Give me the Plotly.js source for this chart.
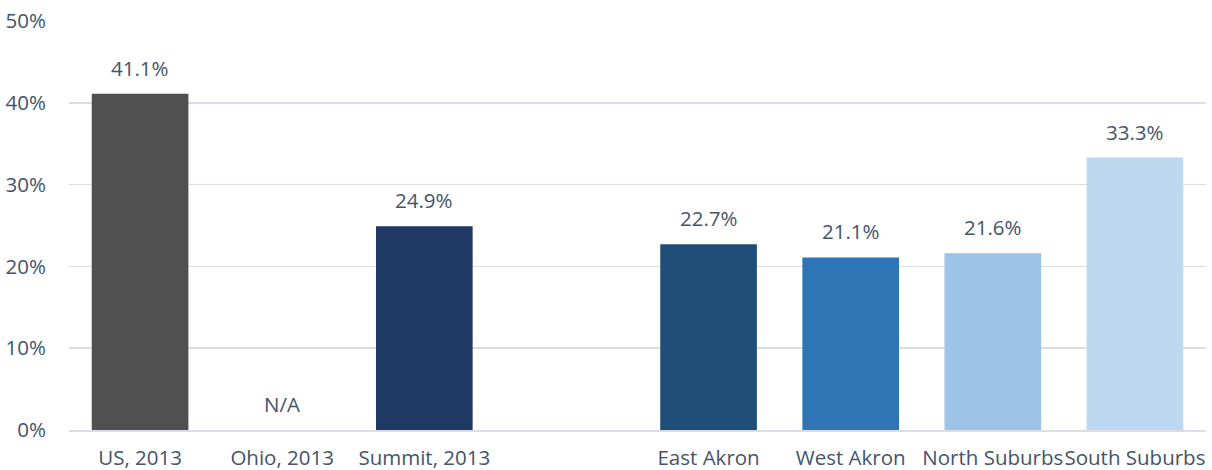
<!DOCTYPE html>
<html>
<head>
<meta charset="utf-8">
<script src="https://cdn.plot.ly/plotly-3.0.1.min.js"></script>
<style>html,body{margin:0;padding:0;background:#fff;}#chart{width:1212px;height:470px;}</style>
</head>
<body>
<div id="chart"></div>
<script>
const categories = ["US, 2013", "Ohio, 2013", "Summit, 2013", " ", "East Akron", "West Akron", "North Suburbs", "South Suburbs"];
const values = [0.411, null, 0.249, null, 0.227, 0.211, 0.216, 0.333];
const labels = ["41.1%", "N/A", "24.9%", "", "22.7%", "21.1%", "21.6%", "33.3%"];
const colors = ["#505050", "#505050", "#203864", "#FFFFFF", "#1F4E79", "#2E75B6", "#9DC3E6", "#BDD7EE"];
const yTickVals = [0, 0.1, 0.2, 0.3, 0.4, 0.5];
const yTickText = ["0%", "10%", "20%", "30%", "40%", "50%"];

const FONT = "'Open Sans', sans-serif";
const FS = 20.5;
const XFS = 20.5;
const TXT = "#44546A";

const annotations = categories.map((c, i) => ({
  x: c, y: values[i] == null ? 0 : values[i], text: labels[i],
  showarrow: false, yshift: 26, xref: "x", yref: "y",
  font: {family: FONT, size: FS, color: TXT}
})).filter(a => a.text !== "");

const trace = {
  type: "bar", x: categories, y: values.map(v => v == null ? 0 : v),
  marker: {color: colors}, hoverinfo: "skip"
};

const layout = {
  width: 1212, height: 470,
  margin: {l: 69, r: 6, t: 21, b: 40},
  paper_bgcolor: "#fff", plot_bgcolor: "#fff",
  bargap: 0.32, showlegend: false,
  font: {family: FONT, size: FS, color: TXT},
  xaxis: {type: "category", categoryorder: "array", categoryarray: categories,
    showgrid: false, showline: true, linecolor: "#D9DEE5", linewidth: 1.5,
    tickangle: 0, automargin: false,
    ticks: "", ticklabelstandoff: 9, tickfont: {family: FONT, size: XFS, color: TXT}, fixedrange: true},
  yaxis: {range: [0, 0.5], tickvals: yTickVals, ticktext: yTickText,
    showgrid: true, gridcolor: "#D9DEE5", gridwidth: 1.5, zeroline: false,
    showline: false, ticks: "", ticklabelstandoff: 22, automargin: false,
    tickfont: {family: FONT, size: FS, color: TXT}, fixedrange: true},
  annotations: annotations
};

Plotly.newPlot("chart", [trace], layout, {displayModeBar: false, staticPlot: true});
</script>
</body>
</html>
